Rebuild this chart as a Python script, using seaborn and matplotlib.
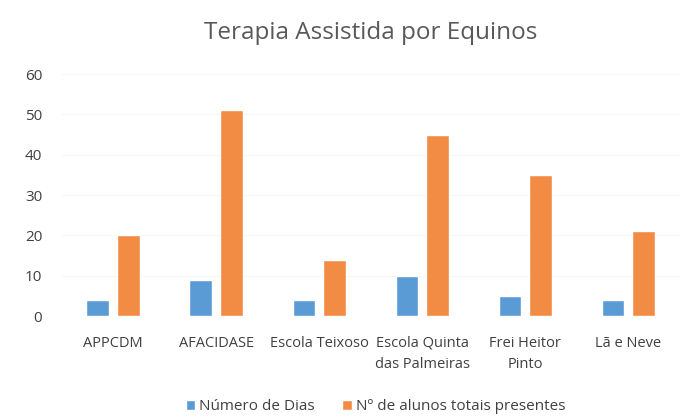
import pandas as pd
import matplotlib
matplotlib.use("Agg")
import matplotlib.pyplot as plt
import seaborn as sns

# Data

categorias = ["APPCDM", "AFACIDASE", "Escola Teixoso", "Escola Quinta\ndas Palmeiras",
              "Frei Heitor\nPinto", "Lã e Neve"]
num_dias = [4, 9, 4, 10, 5, 4]
num_alunos = [20, 51, 14, 45, 35, 21]
series = ["Número de Dias", "Nº de alunos totais presentes"]

df = pd.DataFrame({
    "categoria": categorias * 2,
    "serie": [series[0]] * len(categorias) + [series[1]] * len(categorias),
    "valor": num_dias + num_alunos,
})

sns.set_style("white")
plt.rcParams["font.family"] = ["Open Sans", "DejaVu Sans"]

fig = plt.figure(figsize=(6.93, 4.17), dpi=100)
ax = fig.add_axes([0.089, 0.242, 0.892, 0.5805])

sns.barplot(
    data=df, x="categoria", y="valor", hue="serie",
    palette=["#5B9BD5", "#F28C45"], width=0.6, gap=0.27,
    saturation=1, ax=ax
)

ax.set_ylim(0, 60)
ax.set_yticks(range(0, 61, 10))
ax.set_xlim(-0.5, len(categorias) - 0.5)
ax.set_xlabel("")
ax.set_ylabel("")
sns.despine(ax=ax, left=True, bottom=True)
ax.tick_params(axis="y", length=0, labelsize=11, colors="#404040", pad=14)
ax.tick_params(axis="x", length=0, labelsize=10.5, colors="#404040", pad=14)
for lbl in ax.get_xticklabels():
    lbl.set_linespacing(1.6)
ax.yaxis.grid(True, color="#f7f7f7", linewidth=0.8)
ax.set_axisbelow(True)

fig.suptitle("Terapia Assistida por Equinos", x=0.535, y=0.95,
             fontsize=17.5, color="#595959")

handles, labels = ax.get_legend_handles_labels()
ax.legend_.remove()
fig.legend(handles, labels, loc="center", bbox_to_anchor=(0.542, 0.025), ncol=2,
           frameon=False, fontsize=11, handlelength=0.6, handleheight=0.6,
           handletextpad=0.3, columnspacing=1.8, labelcolor="#404040")

fig.savefig("out.png", dpi=100)
